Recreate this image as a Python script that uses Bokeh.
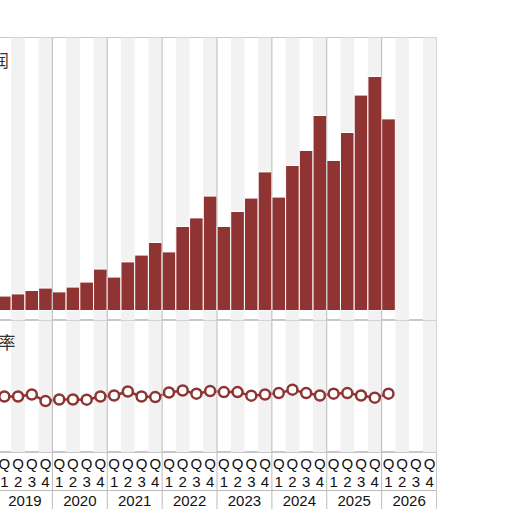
from bokeh.plotting import figure
from bokeh.layouts import column
from bokeh.models import Range1d, Span, Label
from bokeh.embed import file_html
from bokeh.resources import INLINE
from bokeh.core.properties import value

years = ["2019", "2020", "2021", "2022", "2023", "2024", "2025", "2026"]
quarters = ["1", "2", "3", "4"]
profit = [7.2, 8.3, 10.0, 11.2, 9.3, 11.7, 14.2, 20.7, 16.7, 24.3, 27.7, 34.0,
          29.3, 42.0, 46.3, 57.2, 42.0, 49.5, 56.2, 69.3, 56.7, 72.5, 80.0, 97.5,
          75.0, 89.0, 107.7, 117.0, 95.8]
margin = [28.0, 28.0, 29.0, 25.7, 26.5, 26.5, 26.4, 28.0, 28.5, 30.5, 28.0, 27.7,
          30.0, 31.0, 29.4, 30.7, 30.2, 30.2, 28.4, 29.0, 29.7, 31.4, 29.7, 28.5,
          29.4, 29.7, 28.5, 27.4, 29.4]
titles = ["净利润", "净利率"]

BAR = "#8f3333"
STRIPE = "#f2f2f2"
BORDER = "#c8c8c8"
nq = len(years) * len(quarters)
idx = list(range(nq))
stripe_x = [i for i in idx if quarters[i % 4] in ("2", "4")]
year_div = [4 * k - 0.5 for k in range(1, len(years))]
year_x = [4 * k + 1.5 for k in range(len(years))]
q_text = [quarters[i % 4] for i in idx]

xr = Range1d(-0.5, nq - 0.5)
W = 441


def base(h, yr, top=0):
    p = figure(width=W, height=h, x_range=xr, y_range=yr, output_backend="svg",
               toolbar_location=None, x_axis_location=None, y_axis_location=None,
               min_border=0, min_border_top=top, min_border_right=2)
    p.grid.visible = False
    p.outline_line_color = BORDER
    p.outline_line_width = 1
    p.background_fill_color = "white"
    p.border_fill_color = "white"
    return p


# top panel: bars
p1 = base(320, Range1d(-5, 136.5), top=37)
p1.vbar(x=stripe_x, width=1, top=200, bottom=-50, color=STRIPE, line_color=None)
for d in year_div:
    p1.add_layout(Span(location=d, dimension="height", line_color="#bbbbbb", line_width=1))
p1.vbar(x=idx[:len(profit)], width=1, top=profit, bottom=0, fill_color=BAR,
        line_color="white", line_width=1)
p1.add_layout(Label(x=0.324, y=125.5, text=titles[0], text_align="right",
                    text_baseline="middle", text_font="Noto Sans CJK SC",
                    text_font_size="17px", text_color="#333333"))

# middle panel: margin line
p2 = base(132, Range1d(0, 66))
p2.vbar(x=stripe_x, width=1, top=200, bottom=-50, color=STRIPE, line_color=None)
for d in year_div:
    p2.add_layout(Span(location=d, dimension="height", line_color="#bbbbbb", line_width=1))
p2.line(idx[:len(margin)], margin, line_color=BAR, line_width=2.5)
p2.scatter(idx[:len(margin)], margin, size=10, fill_color="white", line_color=BAR,
           line_width=2.5)
p2.add_layout(Label(x=0.812, y=55.5, text=titles[1], text_align="right",
                    text_baseline="middle", text_font="Noto Sans CJK SC",
                    text_font_size="17px", text_color="#333333"))

# bottom: label table
p3 = base(58, Range1d(-1, 57))
for d in year_div:
    p3.add_layout(Span(location=d, dimension="height", line_color="#bbbbbb", line_width=1))
p3.add_layout(Span(location=19, dimension="width", line_color="#bbbbbb", line_width=1))
p3.text(x=idx, y=[46] * nq, text=["Q"] * nq, text_align="center", text_baseline="middle",
        text_font=value("Liberation Sans"), text_font_size=value("15px"), text_color="#111111")
p3.text(x=idx, y=[27.3] * nq, text=q_text, text_align="center", text_baseline="middle",
        text_font=value("Liberation Sans"), text_font_size=value("15px"), text_color="#111111")
p3.text(x=year_x, y=[9] * len(years), text=years, text_align="center", text_baseline="middle",
        text_font=value("Liberation Sans"), text_font_size=value("15px"), text_color="#111111")

layout = column(p1, p2, p3, spacing=0, margin=(0, 0, -4, -3))
open("out.html", "w").write(file_html(layout, INLINE))
